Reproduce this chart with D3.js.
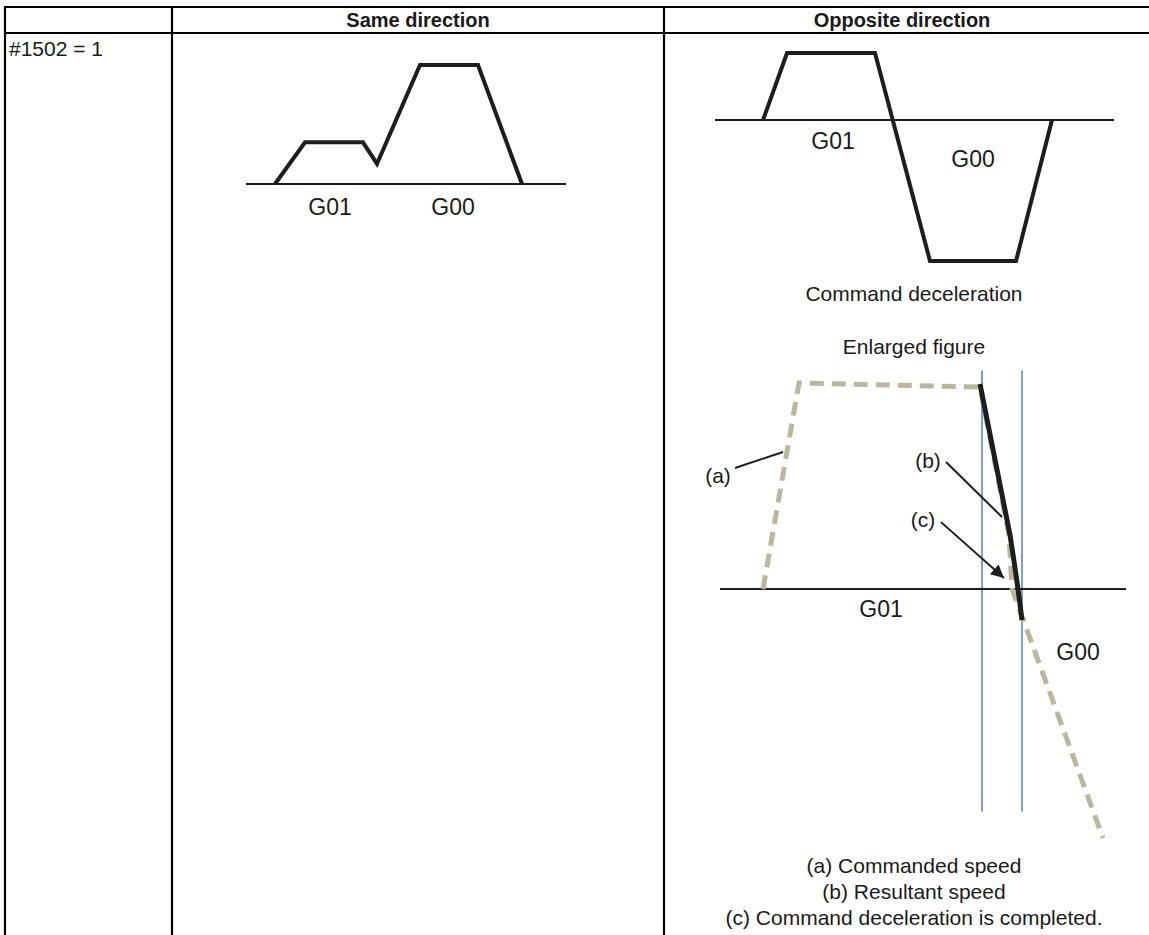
<!DOCTYPE html>
<html>
<head>
<meta charset="utf-8">
<script src="https://cdn.jsdelivr.net/npm/d3@7"></script>
<style>
  body { margin: 0; background: #fff; }
  text { font-family: "Liberation Sans", Arial, sans-serif; fill: #1a1a1a; }
</style>
</head>
<body>
<div id="graph"></div>
<script>
// table text
const headers = ["", "Same direction", "Opposite direction"];
const rowLabel = "#1502 = 1";

// same direction: time vs speed (G01 then G00)
const sameTime = [2.9, 5.9, 11.7, 13.1, 17.4, 23.2, 27.6];
const sameSpeed = [0, 35, 35, 17, 100, 100, 0];
const sameLabels = ["G01", "G00"];

// opposite direction: G01 positive, G00 negative
const oppTime = [4.8, 7.2, 16.0, 21.5, 30.1, 33.7];
const oppSpeed = [0, 50, 50, -105, -105, 0];
const oppLabels = ["G01", "G00"];

// enlarged figure
const cmdTime = [4.3, 7.9, 26.0, 28.9, 29.2, 38.3];
const cmdSpeed = [0, 101, 99, 26.5, 0, -122];
const resTime = [26.0, 29.0, 29.45, 29.8, 30.2];
const resSpeed = [100.5, 26.5, 12, 0, -15.2];
const markerTimes = [26.2, 30.2];
const markerSpan = [107, -109];
const enlLabels = ["G01", "G00"];

const notes = [
  {text: "(a)", lt: -0.2, lv: 52, t0: 1.5, v0: 59.3, t1: 6.3, v1: 67.2, arrow: false},
  {text: "(b)", lt: 20.8, lv: 59.3, t0: 22.6, v0: 62.3, t1: 28.2, v1: 35.3, arrow: false},
  {text: "(c)", lt: 20.3, lv: 30.4, t0: 22.1, v0: 32.8, t1: 28.4, v1: 5.4, arrow: true}
];
const legend = ["(a) Commanded speed", "(b) Resultant speed", "(c) Command deceleration is completed."];

const W = 1149, H = 935;
const colX = [5, 172, 664, 1149];
const rowY = [7, 33];

let svg = d3.select("#graph")
    .append("svg")
    .attr("width", W)
    .attr("height", H);

// table grid
let grid = svg.append("g").attr("stroke", "#000").attr("stroke-width", 2.2);
rowY.forEach(y => {
    grid.append("line").attr("x1", colX[0] - 1).attr("x2", W).attr("y1", y).attr("y2", y);
});
colX.slice(0, 3).forEach(x => {
    grid.append("line").attr("x1", x).attr("x2", x).attr("y1", rowY[0]).attr("y2", H);
});

svg.selectAll(".hdr")
    .data(headers)
    .enter().append("text")
    .attr("x", (d, i) => i == 2 ? 902 : (colX[i] + colX[i + 1]) / 2)
    .attr("y", 27)
    .attr("text-anchor", "middle")
    .style("font-weight", "bold")
    .style("font-size", "20px")
    .text(d => d);

svg.append("text")
    .attr("x", 9)
    .attr("y", 56)
    .style("font-size", "21px")
    .text(rowLabel);

const ink = "#1d1d1b";

// ---- same direction ----
let xs = d3.scaleLinear().domain([0, 32]).range([246, 566]);
let ys = d3.scaleLinear().domain([0, 100]).range([184, 65]);

svg.append("line")
    .attr("x1", xs(0)).attr("x2", xs(32))
    .attr("y1", ys(0)).attr("y2", ys(0))
    .attr("stroke", ink).attr("stroke-width", 2);

let sameLine = d3.line().x(d => xs(d[0])).y(d => ys(d[1]));
svg.append("path")
    .attr("d", sameLine(d3.zip(sameTime, sameSpeed)))
    .attr("fill", "none").attr("stroke", ink).attr("stroke-width", 4)
    .attr("stroke-linejoin", "miter");

svg.selectAll(".slab")
    .data(sameLabels)
    .enter().append("text")
    .attr("x", (d, i) => xs([8.4, 20.7][i]))
    .attr("y", 215)
    .attr("text-anchor", "middle")
    .style("font-size", "23px")
    .text(d => d);

// ---- opposite direction ----
let xo = d3.scaleLinear().domain([0, 40]).range([715, 1115]);
let yo = d3.scaleLinear().domain([-105, 50]).range([261, 53]);

svg.append("line")
    .attr("x1", xo(0)).attr("x2", xo(39.9))
    .attr("y1", yo(0)).attr("y2", yo(0))
    .attr("stroke", ink).attr("stroke-width", 2);

let oppLine = d3.line().x(d => xo(d[0])).y(d => yo(d[1]));
svg.append("path")
    .attr("d", oppLine(d3.zip(oppTime, oppSpeed)))
    .attr("fill", "none").attr("stroke", ink).attr("stroke-width", 4);

svg.selectAll(".olab")
    .data(oppLabels)
    .enter().append("text")
    .attr("x", (d, i) => xo([11.8, 25.8][i]))
    .attr("y", (d, i) => yo([-21.5, -35][i]))
    .attr("text-anchor", "middle")
    .style("font-size", "23px")
    .text(d => d);

svg.append("text")
    .attr("x", 914).attr("y", 301)
    .attr("text-anchor", "middle")
    .style("font-size", "21px")
    .text("Command deceleration");

svg.append("text")
    .attr("x", 914).attr("y", 354)
    .attr("text-anchor", "middle")
    .style("font-size", "21px")
    .text("Enlarged figure");

// ---- enlarged figure ----
let xe = d3.scaleLinear().domain([0, 40.6]).range([720, 1126]);
let ye = d3.scaleLinear().domain([-122, 100]).range([838, 385]);

svg.selectAll(".marker")
    .data(markerTimes)
    .enter().append("line")
    .attr("x1", d => xe(d)).attr("x2", d => xe(d))
    .attr("y1", ye(markerSpan[0])).attr("y2", ye(markerSpan[1]))
    .attr("stroke", "#4f81c0").attr("stroke-width", 1.5);

svg.append("line")
    .attr("x1", xe(0)).attr("x2", xe(40.6))
    .attr("y1", ye(0)).attr("y2", ye(0))
    .attr("stroke", ink).attr("stroke-width", 2);

let enlLine = d3.line().x(d => xe(d[0])).y(d => ye(d[1]));
svg.append("path")
    .attr("d", enlLine(d3.zip(cmdTime, cmdSpeed)))
    .attr("fill", "none").attr("stroke", "#bdb69f").attr("stroke-width", 5)
    .attr("stroke-dasharray", "14,8");

svg.append("path")
    .attr("d", enlLine(d3.zip(resTime, resSpeed)))
    .attr("fill", "none").attr("stroke", ink).attr("stroke-width", 5)
    .attr("stroke-linejoin", "round");

svg.append("defs").append("marker")
    .attr("id", "head")
    .attr("viewBox", "0 0 10 10")
    .attr("refX", 10).attr("refY", 5)
    .attr("markerWidth", 7.5).attr("markerHeight", 6.5)
    .attr("markerUnits", "strokeWidth")
    .attr("orient", "auto")
    .append("path").attr("d", "M0,0L10,5L0,10z").attr("fill", ink);

svg.selectAll(".lead")
    .data(notes)
    .enter().append("line")
    .attr("x1", d => xe(d.t0)).attr("y1", d => ye(d.v0))
    .attr("x2", d => xe(d.t1)).attr("y2", d => ye(d.v1))
    .attr("stroke", ink).attr("stroke-width", 2)
    .attr("marker-end", d => d.arrow ? "url(#head)" : null);

svg.selectAll(".note")
    .data(notes)
    .enter().append("text")
    .attr("x", d => xe(d.lt)).attr("y", d => ye(d.lv))
    .attr("text-anchor", "middle")
    .style("font-size", "21px")
    .text(d => d.text);

svg.selectAll(".elab")
    .data(enlLabels)
    .enter().append("text")
    .attr("x", (d, i) => xe([16.1, 35.8][i]))
    .attr("y", (d, i) => ye([-13.7, -34.8][i]))
    .attr("text-anchor", "middle")
    .style("font-size", "23px")
    .text(d => d);

svg.selectAll(".leg")
    .data(legend)
    .enter().append("text")
    .attr("x", 914)
    .attr("y", (d, i) => 873 + i * 26)
    .attr("text-anchor", "middle")
    .style("font-size", "21px")
    .text(d => d);
</script>
</body>
</html>
